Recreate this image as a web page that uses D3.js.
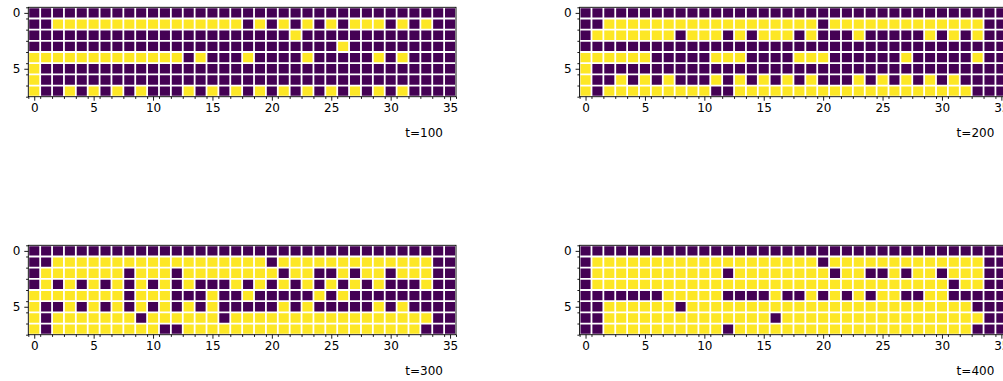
<!DOCTYPE html>
<html>
<head>
<meta charset="utf-8">
<script src="https://cdn.jsdelivr.net/npm/d3@7"></script>
<style>
  html, body { margin: 0; padding: 0; background: #fff; }
  svg { display: block; }
  text { font-family: "DejaVu Sans", sans-serif; }
</style>
</head>
<body>
<svg id="chart" width="1003" height="381"></svg>
<script>
// ---- data: 1 = yellow (on), 0 = purple (off); 8 rows x 36 columns per snapshot ----
const titles = ["t=100", "t=200", "t=300", "t=400"];
const xTicks = [0, 5, 10, 15, 20, 25, 30, 35];
const yTicks = [0, 5];

const grid100 = [
  "0000000000 0000000000 0000000000 000000",
  "0011111111 1111111101 0101010111 010100",
  "0000000000 0000000000 0010000000 000000",
  "0000000000 0000000000 0000001000 000000",
  "1111111111 1110100010 0001000001 010000",
  "1000000000 0000000000 0000000000 000000",
  "1000000000 0000000000 0000000000 000000",
  "1001010101 0001010101 0101010101 010000"
];
const grid200 = [
  "0000000000 0000000000 0000000000 000000",
  "0011111111 1111111111 0111111111 111100",
  "0111111101 1101011101 0001000001 010100",
  "0000000000 0000000000 0000000000 000000",
  "1111110000 0111000011 1000000100 000100",
  "1000000000 0000000000 0000000000 000000",
  "1001010100 0101010101 0001010101 010000",
  "1011111111 1001111111 1111111111 111000"
];
const grid300 = [
  "0000000000 0000000000 0000000000 000000",
  "0011111111 1111111111 0111111111 111100",
  "0111111101 1101111111 1011001011 011100",
  "0101010101 0101000101 0101010101 000100",
  "1111111101 1100010010 0000101000 000000",
  "1001010101 0101010000 0101000001 010000",
  "1011111110 1111110111 1111111111 111100",
  "1011111111 1001111111 1111111111 111000"
];
const grid400 = [
  "0000000000 0000000000 0000000000 000000",
  "0111111111 1111111111 0111111111 111100",
  "0111111111 1101111111 1011001011 011100",
  "0111111111 1111111111 1111111111 101100",
  "0000000111 1100001001 0101011001 100000",
  "0011111101 1111111111 1111111111 111000",
  "0011111111 1111110111 1111111111 111100",
  "0011111111 1101111111 1111111111 111000"
];

const grids = [grid100, grid200, grid300, grid400];

// ---- layout ----
const W = 427.7, H = 89.4;
const origins = [[28.3, 7.3], [579.6, 7.3], [28.3, 245.3], [579.6, 245.3]];
const nCols = 36, nRows = 8;
const colorScale = d3.scaleOrdinal().domain([0, 1]).range(["#440154", "#fde725"]);

const svg = d3.select("#chart");

grids.forEach((g, i) => {
  const rows = g.map(s => s.replace(/\s+/g, "").split("").map(Number));
  rows.forEach((r, k) => { if (r.length !== nCols) console.warn("row length", i, k, r.length); });
  const cells = [];
  rows.forEach((r, ri) => r.forEach((v, ci) => cells.push({ r: ri, c: ci, v })));

  const x = d3.scaleLinear().domain([-0.5, nCols - 0.5]).range([0, W]);
  const y = d3.scaleLinear().domain([-0.5, nRows - 0.5]).range([0, H]);

  const p = svg.append("g").attr("transform", `translate(${origins[i][0]},${origins[i][1]})`);

  p.append("g").selectAll("rect").data(cells).join("rect")
    .attr("x", d => x(d.c - 0.5))
    .attr("y", d => y(d.r - 0.5))
    .attr("width", x(1) - x(0) + 0.3)
    .attr("height", y(1) - y(0) + 0.3)
    .attr("fill", d => colorScale(d.v));

  // white minor grid at cell boundaries
  const xMinor = d3.range(-0.5, nCols, 1);
  const yMinor = d3.range(-0.5, nRows, 1);
  p.append("g").selectAll("line").data(xMinor).join("line")
    .attr("x1", d => x(d)).attr("x2", d => x(d))
    .attr("y1", 0).attr("y2", H)
    .attr("stroke", "#fff").attr("stroke-width", 1.8);
  p.append("g").selectAll("line").data(yMinor).join("line")
    .attr("y1", d => y(d)).attr("y2", d => y(d))
    .attr("x1", 0).attr("x2", W)
    .attr("stroke", "#fff").attr("stroke-width", 1.8);

  // frame
  p.append("rect").attr("x", 0).attr("y", 0).attr("width", W).attr("height", H)
    .attr("fill", "none").attr("stroke", "#000").attr("stroke-width", 0.9);

  // axes
  const xMajor = d3.axisBottom(x).tickValues(xTicks).tickSize(4).tickPadding(3).tickFormat(d3.format("d"));
  const xMin = d3.axisBottom(x).tickValues(xMinor).tickSize(2.2).tickFormat("");
  const yMajor = d3.axisLeft(y).tickValues(yTicks).tickSize(4).tickPadding(4).tickFormat(d3.format("d"));
  const yMin = d3.axisLeft(y).tickValues(yMinor).tickSize(2.2).tickFormat("");

  [[xMajor, `translate(0,${H})`], [xMin, `translate(0,${H})`], [yMajor, null], [yMin, null]].forEach(([ax, tr]) => {
    const a = p.append("g");
    if (tr) a.attr("transform", tr);
    a.call(ax);
    a.select(".domain").remove();
    a.selectAll(".tick line").attr("stroke", "#000").attr("stroke-width", 0.9);
    a.selectAll(".tick text").attr("fill", "#000").style("font-size", "12px")
      .style("font-family", "'DejaVu Sans', sans-serif");
  });

  p.append("text")
    .attr("x", W - 13).attr("y", 129.6)
    .attr("text-anchor", "end")
    .style("font-size", "12px")
    .attr("fill", "#000")
    .text(titles[i]);
});
</script>
</body>
</html>
